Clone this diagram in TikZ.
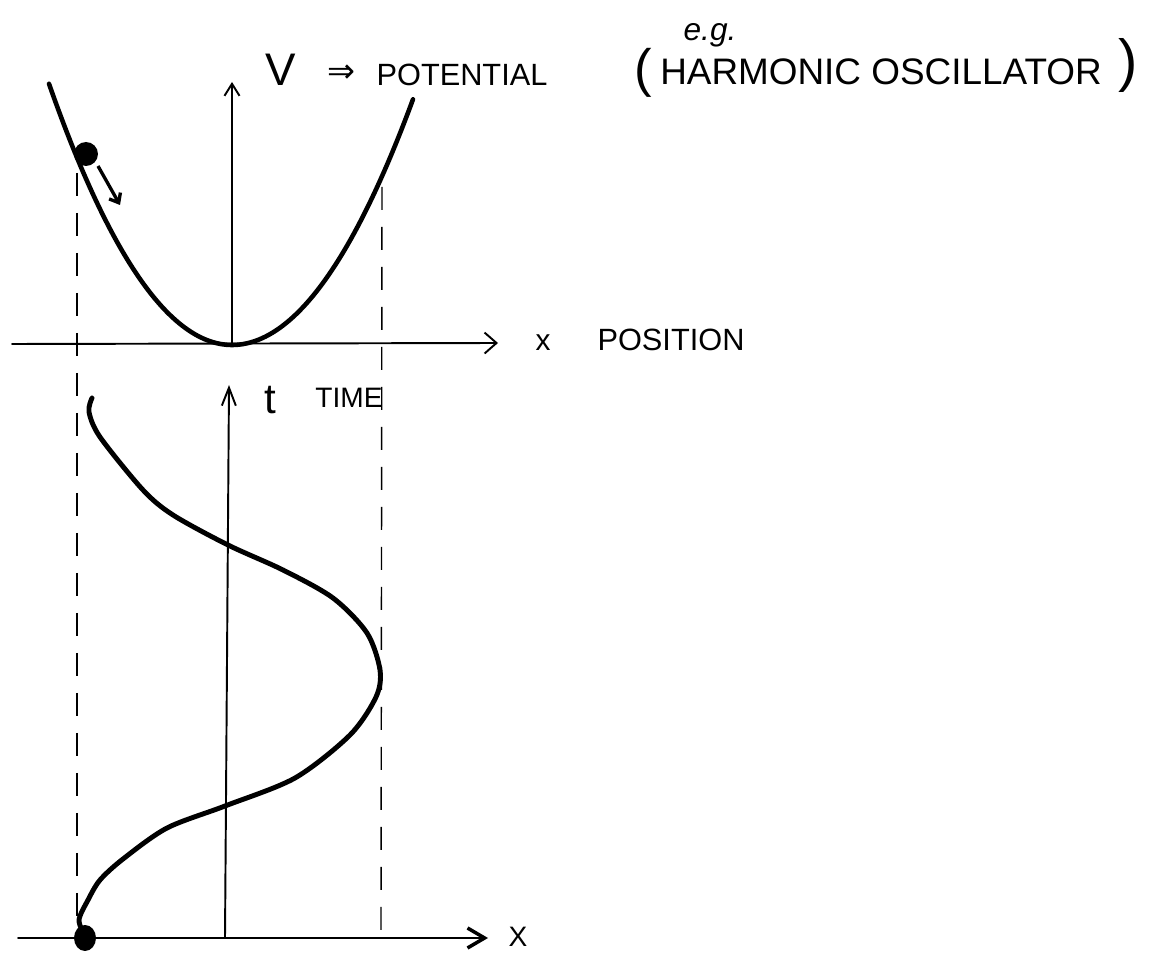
\documentclass[tikz,border=0pt]{standalone}
\usepackage{fontspec}
\setmainfont{Liberation Sans}
\newfontfamily\symfont{DejaVu Sans}
\usetikzlibrary{arrows.meta,shapes.geometric}
\begin{document}
\begin{tikzpicture}[x=0.02cm,y=-0.02cm,
  axis/.style={line width=1.1pt,line cap=round},
  curve/.style={line width=2.6pt,line cap=round,line join=round},
  guide/.style={line width=0.8pt,dash pattern=on 0.46cm off 0.34cm},
  lbl/.style={inner sep=0pt,font=\fontsize{17.5}{20}\selectfont},
  ball/.style={fill=black,draw=none}]
\useasboundingbox (0,0) rectangle (1154,959);
% ---------- upper plot: potential ----------
\coordinate (o1) at (232,344);
\coordinate (x1s) at (12,344);
\coordinate (x1e) at (498,343);
\coordinate (v1e) at (232,82);
\draw[axis,-{Straight Barb[length=0.24cm,width=0.42cm]}] (x1s) -- (x1e);
\draw[axis,-{Straight Barb[length=0.24cm,width=0.3cm]}] (o1) -- (v1e);
% parabola
\draw[curve] plot[domain=49:232,samples=60,smooth] (\x,{345-0.78*((\x-232)/10)^2})
  -- plot[domain=232:413,samples=60,smooth] (\x,{345-0.75*((\x-232)/10)^2});
% ball and its arrow
\node[ball,circle,minimum size=0.48cm,inner sep=0pt] (b1) at (86,154) {};
\coordinate (a1s) at (98,166);
\coordinate (a1e) at (120,205);
\draw[line width=1.9pt,-{Straight Barb[length=0.16cm,width=0.26cm]}] (a1s) -- (a1e);
% ---------- dashed guides ----------
\coordinate (dl1) at (77,173);
\coordinate (dl2) at (77,936);
\coordinate (dr1) at (382,187);
\coordinate (dr2) at (381,932);
\draw[guide] (dl1) -- (dl2);
\draw[guide] (dr1) -- (dr2);
% ---------- lower plot: x(t) ----------
\coordinate (o2) at (225,938);
\coordinate (x2s) at (18,938);
\coordinate (x2e) at (488,938);
\coordinate (t2e) at (229,385);
\draw[axis,-{Straight Barb[length=0.34cm,width=0.4cm,line width=2pt]}] (x2s) -- (x2e);
\draw[axis,-{Straight Barb[length=0.36cm,width=0.28cm]}] (o2) -- (t2e);
\draw[curve,line width=2.8pt] plot[smooth] coordinates {
  (85,936) (79,920) (88,900) (100,880) (123,859) (167,828) (225,806)
  (295,778) (350,735) (376,697) (380,670) (367,633) (333,598) (283,570)
  (228,545) (173,515) (143,490) (100,437) (89,412) (92,398)};
\node[ball,ellipse,minimum width=0.44cm,minimum height=0.52cm,inner sep=0pt] (b2) at (85,938) {};
% ---------- labels ----------
\node[lbl,font=\fontsize{26}{28}\selectfont] (V) at (281,70) {V};
\node[lbl,font=\symfont\fontsize{19}{20}\selectfont] (impl) at (341,74) {⇒};
\node[lbl] (pot) at (462,75) {POTENTIAL};
\node[lbl,font=\fontsize{18}{20}\selectfont\itshape] (eg) at (710,35) {e.g.};
\node[lbl,font=\fontsize{30}{32}\selectfont] (lp) at (643,73) {(};
\node[lbl,font=\fontsize{21}{23}\selectfont] (ho) at (881,72) {HARMONIC OSCILLATOR};
\node[lbl,font=\fontsize{33}{35}\selectfont] (rp) at (1128,66) {)};
\node[lbl,font=\fontsize{17}{18}\selectfont] (xl) at (543,343) {x};
\node[lbl] (posl) at (671,340) {POSITION};
\node[lbl,font=\fontsize{24}{26}\selectfont] (tl) at (270,400) {t};
\node[lbl,font=\fontsize{16}{18}\selectfont] (timel) at (349,398) {TIME};
\node[lbl,font=\fontsize{16}{18}\selectfont] (Xl) at (518,937) {X};
\end{tikzpicture}
\end{document}
